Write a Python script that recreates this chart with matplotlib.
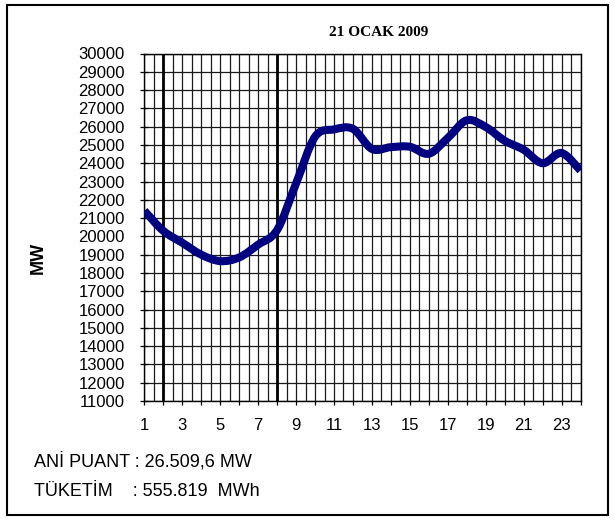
import matplotlib.pyplot as plt
from matplotlib.path import Path
from matplotlib.patches import PathPatch, Rectangle
import numpy as np

# Saatlik yük (MW)
hours = list(range(1, 25))
load_mw = [21400, 20300, 19650, 19000, 18650, 18850, 19550, 20350,
           22900, 25450, 25850, 25880, 24780, 24880, 24900, 24520,
           25380, 26350, 25980, 25230, 24740, 24000, 24560, 23600]
y_ticks = list(range(11000, 30001, 1000))
x_labels = [str(h) if h % 2 == 1 else "" for h in hours]
marked_hours = [2, 8]

title = "21 OCAK 2009"
peak_text = "ANİ PUANT : 26.509,6 MW"
consumption_text = "TÜKETİM    : 555.819  MWh"

W, H = 615, 523
fig = plt.figure(figsize=(W / 100, H / 100), dpi=100)
ax = fig.add_axes([144.4 / W, 1 - 401 / H, (580.5 - 144.4) / W, (401 - 53.5) / H])

# Gitter: yarım saatte bir dikey, 1000 MW'da bir yatay
ax.set_xlim(1, 24)
ax.set_ylim(11000, 30000)
ax.set_xticks(hours)
ax.set_xticklabels(x_labels)
ax.set_xticks(np.arange(1.5, 24, 1.0), minor=True)
ax.set_yticks(y_ticks)
ax.set_yticklabels([str(v) for v in y_ticks])
ax.grid(True, which="both", color="#1a1a1a", linewidth=0.9)
ax.set_axisbelow(True)

ax.tick_params(axis="x", which="major", direction="out", length=3, width=0.9,
               pad=9, labelsize=12, color="black")
ax.tick_params(axis="x", which="minor", length=0)
ax.tick_params(axis="y", direction="inout", length=6, width=0.9,
               pad=11, labelsize=12, color="black")
for label in ax.get_xticklabels() + ax.get_yticklabels():
    label.set_fontfamily("Liberation Sans")
for spine in ax.spines.values():
    spine.set_color("black")
    spine.set_linewidth(1.0)

for h in marked_hours:
    ax.axvline(h, color="black", linewidth=2.0)

# Excel tarzı yumuşatılmış çizgi (Catmull-Rom -> Bezier)
pts = np.column_stack([hours, load_mw]).astype(float)
ext = np.vstack([pts[0], pts, pts[-1]])
verts = [tuple(pts[0])]
codes = [Path.MOVETO]
for i in range(len(pts) - 1):
    p0, p1, p2, p3 = ext[i], ext[i + 1], ext[i + 2], ext[i + 3]
    c1 = p1 + (p2 - p0) / 6.0
    c2 = p2 - (p3 - p1) / 6.0
    verts += [tuple(c1), tuple(c2), tuple(p2)]
    codes += [Path.CURVE4] * 3
ax.add_patch(PathPatch(Path(verts, codes), facecolor="none", edgecolor="#000080",
                       linewidth=5.8, capstyle="butt", joinstyle="round", zorder=5))

# Başlık, eksen adı ve alt bilgiler
fig.text(379 / W, 1 - 32 / H, title, ha="center", va="center",
         fontfamily="Liberation Serif", fontweight="bold", fontsize=11)
fig.text(38 / W, 1 - 258 / H, "MW", ha="center", va="center", rotation=90,
         fontfamily="Liberation Sans", fontweight="bold", fontsize=13)
fig.text(34 / W, 1 - 461 / H, peak_text, ha="left", va="center",
         fontfamily="Liberation Sans", fontsize=13)
fig.text(34 / W, 1 - 492 / H, consumption_text, ha="left", va="center",
         fontfamily="Liberation Sans", fontsize=13)

fig.add_artist(Rectangle((7 / W, 1 - 515 / H), (608 - 7) / W, (515 - 5) / H,
                         transform=fig.transFigure, fill=False,
                         edgecolor="black", linewidth=1.5))

fig.savefig("out.png", dpi=100)
plt.close(fig)
